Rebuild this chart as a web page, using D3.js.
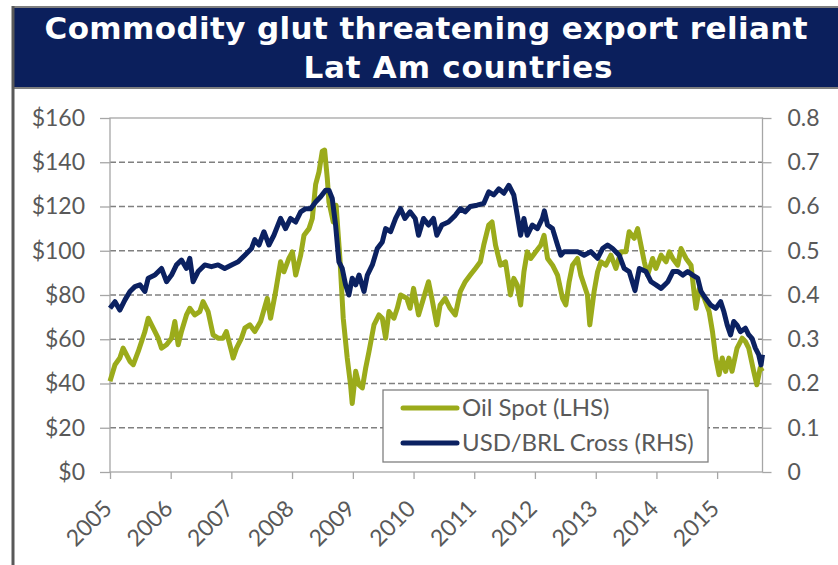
<!DOCTYPE html>
<html>
<head>
<meta charset="utf-8">
<script src="https://cdn.jsdelivr.net/npm/d3@7"></script>
<style>
	body { margin: 0; background: #fff; }
	svg { display: block; }
	.tick-label { font-family: Lato, "Open Sans", sans-serif; font-size: 23px; fill: #595959; }
</style>
</head>
<body>
<div id="chart"></div>
<script>
// title lines
const titleLines = ['Commodity glut threatening export reliant', 'Lat Am countries'];

// series (date, value)
const oilSpot = [
	['2005-01-01', 41], ['2005-01-31', 48.5], ['2005-03-01', 51.5], ['2005-03-21', 56],
	['2005-05-01', 50], ['2005-05-21', 48.5], ['2005-06-20', 54.5], ['2005-07-30', 63.5],
	['2005-08-19', 69.5], ['2005-09-08', 66.5], ['2005-10-18', 60.5], ['2005-11-07', 56],
	['2005-12-07', 57.5], ['2006-01-06', 60.5], ['2006-01-26', 68], ['2006-02-15', 57.5],
	['2006-03-07', 63.5], ['2006-04-06', 71], ['2006-04-26', 74], ['2006-05-26', 71],
	['2006-06-25', 72.5], ['2006-07-15', 77], ['2006-08-14', 72.5], ['2006-09-13', 62],
	['2006-10-13', 60.5], ['2006-11-12', 60.5], ['2006-12-02', 63.5], ['2007-01-02', 54.5],
	['2007-01-12', 51.5], ['2007-02-01', 56], ['2007-03-03', 60.5], ['2007-03-23', 65],
	['2007-04-22', 66.5], ['2007-05-22', 63.5], ['2007-06-26', 68], ['2007-08-05', 78.5],
	['2007-08-25', 69.5], ['2007-09-24', 81.5], ['2007-10-24', 95], ['2007-11-13', 90.5],
	['2007-12-13', 96.5], ['2008-01-03', 99.5], ['2008-01-23', 89], ['2008-02-22', 98],
	['2008-03-13', 107], ['2008-04-12', 110], ['2008-05-02', 114.6], ['2008-05-22', 130],
	['2008-06-11', 135.6], ['2008-07-01', 145], ['2008-07-15', 145.5], ['2008-07-31', 132.8],
	['2008-08-10', 122], ['2008-09-05', 113], ['2008-09-22', 120.6], ['2008-10-15', 96.5],
	['2008-11-04', 69.5], ['2008-11-28', 51.5], ['2008-12-18', 39.4], ['2008-12-28', 31],
	['2009-01-18', 45.5], ['2009-02-07', 39.4], ['2009-02-27', 38], ['2009-03-19', 47],
	['2009-04-08', 54.5], ['2009-05-08', 66.5], ['2009-06-07', 71], ['2009-06-27', 69.5],
	['2009-07-17', 60.5], ['2009-08-06', 72.5], ['2009-09-05', 69.5], ['2009-09-25', 74],
	['2009-10-15', 80], ['2009-11-21', 78.5], ['2009-12-11', 74], ['2010-01-01', 83],
	['2010-01-31', 71], ['2010-03-02', 78.5], ['2010-04-01', 86], ['2010-04-21', 78.5],
	['2010-05-21', 66.5], ['2010-06-10', 75.5], ['2010-07-10', 78.5], ['2010-08-09', 74],
	['2010-09-09', 71], ['2010-10-09', 81.5], ['2010-11-08', 86], ['2010-12-08', 89],
	['2011-01-08', 92], ['2011-02-07', 95], ['2011-02-27', 102.5], ['2011-03-29', 111.6],
	['2011-04-18', 113], ['2011-05-09', 102.5], ['2011-06-08', 93.5], ['2011-07-08', 95],
	['2011-08-07', 80], ['2011-08-27', 87.5], ['2011-09-17', 84.5], ['2011-10-07', 75.5],
	['2011-10-27', 90.5], ['2011-11-16', 99.5], ['2011-12-07', 96.5], ['2012-01-06', 99.5],
	['2012-02-05', 102.5], ['2012-02-25', 107], ['2012-03-17', 96.5], ['2012-04-16', 93.5],
	['2012-05-16', 89], ['2012-06-15', 78.5], ['2012-07-05', 75.5], ['2012-07-25', 86],
	['2012-08-14', 93.5], ['2012-09-13', 96.5], ['2012-10-03', 89], ['2012-10-23', 84.5],
	['2012-11-12', 80], ['2012-11-26', 66.5], ['2012-12-22', 81.5], ['2013-01-12', 90.5],
	['2013-02-01', 95], ['2013-03-03', 93.5], ['2013-04-02', 98], ['2013-05-02', 92],
	['2013-06-01', 99.5], ['2013-07-01', 99.5], ['2013-07-21', 108.6], ['2013-08-20', 105.6],
	['2013-09-10', 110], ['2013-09-30', 102.5], ['2013-10-20', 95], ['2013-11-09', 89],
	['2013-12-09', 96.5], ['2013-12-29', 92], ['2014-01-29', 98], ['2014-02-28', 95],
	['2014-03-20', 99.5], ['2014-04-09', 96.5], ['2014-05-09', 93.5], ['2014-05-29', 101],
	['2014-06-28', 96.5], ['2014-07-28', 93.5], ['2014-08-17', 80], ['2014-08-27', 74],
	['2014-09-16', 83], ['2014-10-16', 78.5], ['2014-11-14', 72.5], ['2014-12-04', 63.5],
	['2014-12-24', 51.5], ['2015-01-13', 44], ['2015-02-01', 51.5], ['2015-02-21', 45.5],
	['2015-03-13', 51.5], ['2015-04-01', 45.5], ['2015-05-01', 56], ['2015-06-01', 60.5],
	['2015-06-20', 59], ['2015-07-10', 56], ['2015-08-09', 45.5], ['2015-08-28', 39.4],
	['2015-09-17', 47], ['2015-10-01', 45.5]
];

const usdBrl = [
	['2005-01-01', 0.37], ['2005-01-31', 0.385], ['2005-03-01', 0.366], ['2005-04-01', 0.389],
	['2005-05-01', 0.408], ['2005-05-31', 0.419], ['2005-06-30', 0.423], ['2005-07-30', 0.408],
	['2005-08-19', 0.438], ['2005-09-28', 0.445], ['2005-11-07', 0.46], ['2005-12-07', 0.43],
	['2006-01-06', 0.445], ['2006-02-05', 0.468], ['2006-03-07', 0.479], ['2006-04-06', 0.46],
	['2006-04-26', 0.483], ['2006-05-16', 0.43], ['2006-06-15', 0.453], ['2006-07-25', 0.468],
	['2006-09-03', 0.464], ['2006-10-13', 0.468], ['2006-11-22', 0.46], ['2007-01-02', 0.468],
	['2007-02-11', 0.475], ['2007-03-23', 0.49], ['2007-05-02', 0.505], ['2007-05-22', 0.525],
	['2007-06-16', 0.513], ['2007-07-16', 0.543], ['2007-08-15', 0.513], ['2007-09-14', 0.535],
	['2007-10-24', 0.573], ['2007-11-23', 0.55], ['2007-12-23', 0.573], ['2008-01-23', 0.565],
	['2008-02-22', 0.588], ['2008-03-23', 0.595], ['2008-04-22', 0.595], ['2008-05-22', 0.61],
	['2008-06-21', 0.622], ['2008-07-21', 0.637], ['2008-08-10', 0.637], ['2008-08-30', 0.618],
	['2008-09-19', 0.558], ['2008-10-09', 0.475], ['2008-10-29', 0.46], ['2008-11-18', 0.423],
	['2008-12-08', 0.40], ['2008-12-28', 0.438], ['2009-01-18', 0.423], ['2009-02-07', 0.445],
	['2009-03-09', 0.408], ['2009-03-29', 0.445], ['2009-04-28', 0.468], ['2009-05-28', 0.505],
	['2009-06-27', 0.52], ['2009-07-17', 0.55], ['2009-08-16', 0.543], ['2009-09-15', 0.573],
	['2009-10-15', 0.595], ['2009-11-10', 0.573], ['2009-12-11', 0.588], ['2010-01-11', 0.573],
	['2010-01-31', 0.535], ['2010-03-02', 0.573], ['2010-04-01', 0.558], ['2010-05-01', 0.573],
	['2010-05-21', 0.535], ['2010-06-20', 0.558], ['2010-07-30', 0.565], ['2010-09-09', 0.58],
	['2010-10-09', 0.595], ['2010-11-08', 0.588], ['2010-12-08', 0.60], ['2011-01-18', 0.603],
	['2011-02-27', 0.607], ['2011-03-29', 0.633], ['2011-04-28', 0.626], ['2011-05-29', 0.64],
	['2011-06-28', 0.63], ['2011-07-28', 0.648], ['2011-08-27', 0.626], ['2011-09-17', 0.58],
	['2011-10-07', 0.535], ['2011-10-27', 0.573], ['2011-11-16', 0.535], ['2011-12-16', 0.558],
	['2012-01-16', 0.55], ['2012-02-15', 0.573], ['2012-02-27', 0.59], ['2012-03-17', 0.558],
	['2012-04-16', 0.55], ['2012-05-16', 0.513], ['2012-06-05', 0.49], ['2012-06-25', 0.498],
	['2012-08-04', 0.498], ['2012-09-13', 0.498], ['2012-10-23', 0.49], ['2012-12-02', 0.498],
	['2013-01-12', 0.483], ['2013-02-11', 0.505], ['2013-03-13', 0.513], ['2013-04-12', 0.505],
	['2013-05-22', 0.49], ['2013-06-21', 0.46], ['2013-07-21', 0.453], ['2013-08-25', 0.41],
	['2013-09-20', 0.46], ['2013-10-30', 0.453], ['2013-11-29', 0.43], ['2013-12-29', 0.423],
	['2014-01-29', 0.415], ['2014-03-11', 0.43], ['2014-04-10', 0.453], ['2014-05-10', 0.453],
	['2014-06-08', 0.445], ['2014-07-08', 0.453], ['2014-08-07', 0.445], ['2014-09-06', 0.438],
	['2014-09-26', 0.408], ['2014-10-25', 0.392], ['2014-11-24', 0.377], ['2014-12-24', 0.37],
	['2015-01-22', 0.385], ['2015-02-11', 0.362], ['2015-03-03', 0.332], ['2015-03-23', 0.31],
	['2015-04-11', 0.34], ['2015-05-01', 0.332], ['2015-05-21', 0.317], ['2015-06-20', 0.325],
	['2015-07-10', 0.31], ['2015-07-30', 0.302], ['2015-08-19', 0.28], ['2015-09-08', 0.265],
	['2015-09-22', 0.242], ['2015-10-01', 0.265]
];

// axes
const dateRange = ['2005-01-01', '2015-10-01'];
const leftTicks = [0, 20, 40, 60, 80, 100, 120, 140, 160];
const rightTicks = [0, 0.1, 0.2, 0.3, 0.4, 0.5, 0.6, 0.7, 0.8];
const legendLabels = ['Oil Spot (LHS)', 'USD/BRL Cross (RHS)'];

(() => {
	const width = 838;
	const height = 565;
	const plot = { left: 110, right: 762.5, top: 118, bottom: 472 };
	const oilColor = '#9bab1b';
	const brlColor = '#0b2161';
	const parse = d3.timeParse('%Y-%m-%d');

	const svg = d3.select('#chart').append('svg')
		.attr('width', width)
		.attr('height', height);

	// frame and title banner
	svg.append('rect')
		.attr('x', 13)
		.attr('y', 7)
		.attr('width', width)
		.attr('height', 81)
		.attr('fill', '#0b1f5c')
		.attr('stroke', '#7f7f7f')
		.attr('stroke-width', 2);
	svg.append('line')
		.attr('x1', 13).attr('x2', 13)
		.attr('y1', 6).attr('y2', height)
		.attr('stroke', '#595959')
		.attr('stroke-width', 3);

	svg.selectAll('.title')
		.data(titleLines)
		.enter().append('text')
			.attr('class', 'title')
			.attr('x', (d, i) => i === 0 ? 426 : 458)
			.attr('y', (d, i) => i === 0 ? 39 : 78)
			.attr('text-anchor', 'middle')
			.attr('textLength', (d, i) => i === 0 ? 763 : 309)
			.attr('lengthAdjust', 'spacing')
			.style('font-family', '"DejaVu Sans", Verdana, sans-serif')
			.style('font-weight', 'bold')
			.style('font-size', '31px')
			.style('fill', '#fff')
			.text(d => d);

	// scales
	const x = d3.scaleTime()
		.domain(dateRange.map(parse))
		.range([plot.left, plot.right]);
	const yLeft = d3.scaleLinear()
		.domain([0, 160])
		.range([plot.bottom, plot.top]);
	const yRight = d3.scaleLinear()
		.domain([0, 0.8])
		.range([plot.bottom, plot.top]);

	// dashed gridlines
	svg.append('g')
		.attr('class', 'grid')
		.selectAll('line')
		.data(leftTicks.filter(d => d > 0 && d < 160))
		.enter().append('line')
			.attr('x1', plot.left)
			.attr('x2', plot.right)
			.attr('y1', d => yLeft(d))
			.attr('y2', d => yLeft(d))
			.attr('stroke', '#808080')
			.attr('stroke-width', 1.3)
			.attr('stroke-dasharray', '6,3');

	// plot frame
	svg.append('rect')
		.attr('x', plot.left)
		.attr('y', plot.top)
		.attr('width', plot.right - plot.left)
		.attr('height', plot.bottom - plot.top)
		.attr('fill', 'none')
		.attr('stroke', '#a6a6a6')
		.attr('stroke-width', 1.3);

	// axes
	const leftAxis = d3.axisLeft(yLeft)
		.tickValues(leftTicks)
		.tickSize(10)
		.tickPadding(15)
		.tickFormat(d => '$' + d);
	const rightAxis = d3.axisRight(yRight)
		.tickValues(rightTicks)
		.tickSize(9)
		.tickPadding(16)
		.tickFormat(d => d === 0 ? '0' : d3.format('.1f')(d));
	const bottomAxis = d3.axisBottom(x)
		.ticks(d3.timeYear.every(1))
		.tickSize(7)
		.tickFormat(d3.timeFormat('%Y'));

	const styleAxis = (g) => {
		g.select('.domain').remove();
		g.selectAll('.tick line').attr('stroke', '#a6a6a6').attr('stroke-width', 1.3);
		g.selectAll('.tick text').attr('class', 'tick-label').attr('fill', null);
	};

	svg.append('g')
		.attr('transform', `translate(${plot.left}, 0)`)
		.call(leftAxis)
		.call(styleAxis);
	svg.append('g')
		.attr('transform', `translate(${plot.right}, 0)`)
		.call(rightAxis)
		.call(styleAxis);
	const xAxisG = svg.append('g')
		.attr('transform', `translate(0, ${plot.bottom})`)
		.call(bottomAxis)
		.call(styleAxis);
	xAxisG.selectAll('.tick text')
		.attr('x', 0)
		.attr('y', 0)
		.attr('dy', 0)
		.attr('text-anchor', 'end')
		.attr('transform', 'translate(3, 38) rotate(-45)');

	// lines
	const oilLine = d3.line()
		.x(d => x(parse(d[0])))
		.y(d => yLeft(d[1]));
	const brlLine = d3.line()
		.x(d => x(parse(d[0])))
		.y(d => yRight(d[1]));

	svg.append('path')
		.datum(oilSpot)
		.attr('fill', 'none')
		.attr('stroke', oilColor)
		.attr('stroke-width', 5)
		.attr('stroke-linejoin', 'round')
		.attr('d', oilLine);
	svg.append('path')
		.datum(usdBrl)
		.attr('fill', 'none')
		.attr('stroke', brlColor)
		.attr('stroke-width', 5)
		.attr('stroke-linejoin', 'round')
		.attr('d', brlLine);

	// legend
	const legend = svg.append('g')
		.attr('transform', 'translate(383, 390)');
	legend.append('rect')
		.attr('width', 325)
		.attr('height', 72)
		.attr('fill', '#fff')
		.attr('stroke', '#808080')
		.attr('stroke-width', 1.3);
	const items = legend.selectAll('.legend-item')
		.data(legendLabels)
		.enter().append('g')
			.attr('class', 'legend-item')
			.attr('transform', (d, i) => `translate(0, ${18 + i * 35})`);
	items.append('line')
		.attr('x1', 20)
		.attr('x2', 74)
		.attr('stroke', (d, i) => i === 0 ? oilColor : brlColor)
		.attr('stroke-width', 5)
		.attr('stroke-linecap', 'round');
	items.append('text')
		.attr('class', 'tick-label')
		.attr('x', 79)
		.attr('y', 8)
		.style('font-size', '24px')
		.text(d => d);
})();
</script>
</body>
</html>
